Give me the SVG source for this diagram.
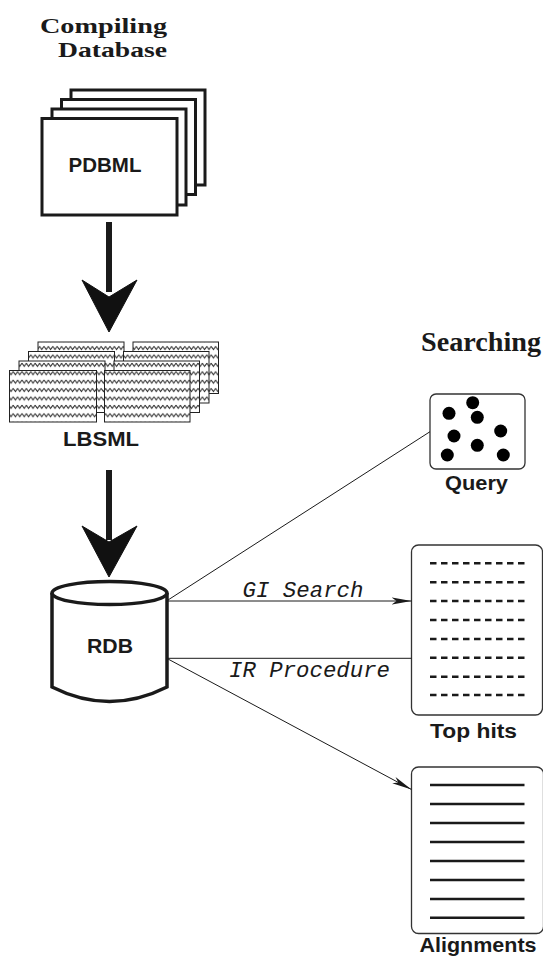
<svg xmlns="http://www.w3.org/2000/svg" width="543" height="963" viewBox="0 0 543 963">
<style>
.title{font-family:"Liberation Serif","Times New Roman",serif;font-weight:bold;fill:#1a1a1a}
.lbl{font-family:"Liberation Sans",Arial,sans-serif;font-weight:bold;fill:#1a1a1a}
.edge{font-family:"Liberation Mono","Courier New",monospace;font-style:italic;fill:#1a1a1a}
.page{fill:#fff;stroke:#1a1a1a;stroke-width:3}
.hatch{fill:url(#zig);stroke:#222;stroke-width:1}
.box{fill:#fff;stroke:#333;stroke-width:1.3}
.thin{stroke:#1a1a1a;stroke-width:1;fill:none}
.big{stroke:#1a1a1a;stroke-width:6;fill:none}
.head{fill:#111;stroke:#111;stroke-width:1}
.dash{stroke:#1a1a1a;stroke-width:2.5;stroke-dasharray:6.5 4.5}
.solid{stroke:#1a1a1a;stroke-width:2.6}
</style>
<defs>
<pattern id="zig" width="4.4" height="8.4" patternUnits="userSpaceOnUse">
<rect width="4.4" height="8.4" fill="#fff"/>
<path d="M0,2 L2.2,5.2 L4.4,2" fill="none" stroke="#222" stroke-width="0.9"/>
</pattern>
<marker id="barb" markerWidth="20" markerHeight="10" refX="20" refY="5" orient="auto" markerUnits="userSpaceOnUse">
<path d="M0,1.5 L20,5 L0,8.5 L5,5 Z" fill="#1a1a1a"/>
</marker>
</defs>

<g id="title-compiling">
<text class="title" x="40" y="33" font-size="21" textLength="127" lengthAdjust="spacingAndGlyphs">Compiling</text>
<text class="title" x="58" y="57" font-size="21" textLength="109" lengthAdjust="spacingAndGlyphs">Database</text>
</g>
<g id="title-searching">
<text class="title" x="421" y="351" font-size="27" textLength="120" lengthAdjust="spacingAndGlyphs">Searching</text>
</g>

<g id="pdbml">
<rect class="page" x="71" y="90" width="134" height="95"/>
<rect class="page" x="61.5" y="99.5" width="134" height="95"/>
<rect class="page" x="52" y="109" width="134" height="96"/>
<rect class="page" x="42" y="118.5" width="135" height="96.5"/>
<text class="lbl" x="105" y="171.5" font-size="20.5" text-anchor="middle">PDBML</text>
</g>

<g id="lbsml">
<rect class="hatch" x="133" y="342" width="85.5" height="51.5"/>
<rect class="hatch" x="38" y="342" width="86" height="51.5"/>
<rect class="hatch" x="123.5" y="351.5" width="85.5" height="51.5"/>
<rect class="hatch" x="28.5" y="351.5" width="86" height="51.5"/>
<rect class="hatch" x="114" y="361" width="85.5" height="51.5"/>
<rect class="hatch" x="19" y="361" width="86" height="51.5"/>
<rect class="hatch" x="104.5" y="370.5" width="85.5" height="51.5"/>
<rect class="hatch" x="9.5" y="370.5" width="87" height="51.5"/>
<text class="lbl" x="101" y="446" font-size="20.5" text-anchor="middle" textLength="76" lengthAdjust="spacingAndGlyphs">LBSML</text>
</g>

<g id="rdb">
<path d="M52,593 L52,687 Q109.5,716 167,687 L167,593" fill="#fff" stroke="#1a1a1a" stroke-width="3.5"/>
<ellipse cx="109.5" cy="593" rx="57.5" ry="11.5" fill="#fff" stroke="#1a1a1a" stroke-width="3.5"/>
<text class="lbl" x="110" y="652.5" font-size="20" text-anchor="middle" textLength="46" lengthAdjust="spacingAndGlyphs">RDB</text>
</g>

<g id="query">
<rect class="box" x="430" y="394" width="95" height="75" rx="6"/>
<g fill="#000">
<circle cx="449" cy="413.3" r="6.5"/>
<circle cx="472.7" cy="402.7" r="6.5"/>
<circle cx="477.3" cy="417.3" r="6.5"/>
<circle cx="454" cy="436" r="6.5"/>
<circle cx="500.7" cy="431" r="6.5"/>
<circle cx="477.3" cy="445.3" r="6.5"/>
<circle cx="447.3" cy="455" r="6.5"/>
<circle cx="503.3" cy="455" r="6.5"/>
</g>
<text class="lbl" x="476.5" y="490" font-size="20" text-anchor="middle" textLength="63" lengthAdjust="spacingAndGlyphs">Query</text>
</g>

<g id="tophits">
<rect class="box" x="411.5" y="545" width="131" height="170" rx="7"/>
<line class="dash" x1="430" y1="563.3" x2="525" y2="563.3"/>
<line class="dash" x1="430" y1="582.3" x2="525" y2="582.3"/>
<line class="dash" x1="430" y1="601" x2="525" y2="601"/>
<line class="dash" x1="430" y1="620" x2="525" y2="620"/>
<line class="dash" x1="430" y1="639" x2="525" y2="639"/>
<line class="dash" x1="430" y1="657.7" x2="525" y2="657.7"/>
<line class="dash" x1="430" y1="676.7" x2="525" y2="676.7"/>
<line class="dash" x1="430" y1="695" x2="525" y2="695"/>
<text class="lbl" x="473.5" y="738" font-size="20" text-anchor="middle" textLength="87" lengthAdjust="spacingAndGlyphs">Top hits</text>
</g>

<g id="alignments">
<rect class="box" x="411.5" y="767" width="132" height="166.5" rx="7"/>
<line class="solid" x1="430" y1="785" x2="524.5" y2="785"/>
<line class="solid" x1="430" y1="804" x2="524.5" y2="804"/>
<line class="solid" x1="430" y1="823" x2="524.5" y2="823"/>
<line class="solid" x1="430" y1="842" x2="524.5" y2="842"/>
<line class="solid" x1="430" y1="861" x2="524.5" y2="861"/>
<line class="solid" x1="430" y1="880" x2="524.5" y2="880"/>
<line class="solid" x1="430" y1="899" x2="524.5" y2="899"/>
<line class="solid" x1="430" y1="917.7" x2="524.5" y2="917.7"/>
<text class="lbl" x="478" y="951.5" font-size="21" text-anchor="middle" textLength="117" lengthAdjust="spacingAndGlyphs">Alignments</text>
</g>

<g id="connectors">
<line class="big" x1="109" y1="222" x2="109" y2="292"/>
<polygon class="head" points="82,280 109,297 137,280 109,332"/>
<line class="big" x1="109" y1="470" x2="109" y2="540"/>
<polygon class="head" points="82,526 109,542 137,526 109,577"/>
<line class="thin" x1="168" y1="600" x2="430" y2="431.7"/>
<line class="thin" x1="168" y1="601" x2="411.5" y2="601" marker-end="url(#barb)"/>
<line class="thin" x1="168" y1="658.3" x2="411.5" y2="658.3"/>
<line class="thin" x1="168" y1="659" x2="411.5" y2="789.5" marker-end="url(#barb)"/>
<text class="edge" x="242.5" y="597" font-size="22" textLength="121" lengthAdjust="spacingAndGlyphs">GI Search</text>
<text class="edge" x="229" y="676.5" font-size="22" textLength="161" lengthAdjust="spacingAndGlyphs">IR Procedure</text>
</g>
</svg>
